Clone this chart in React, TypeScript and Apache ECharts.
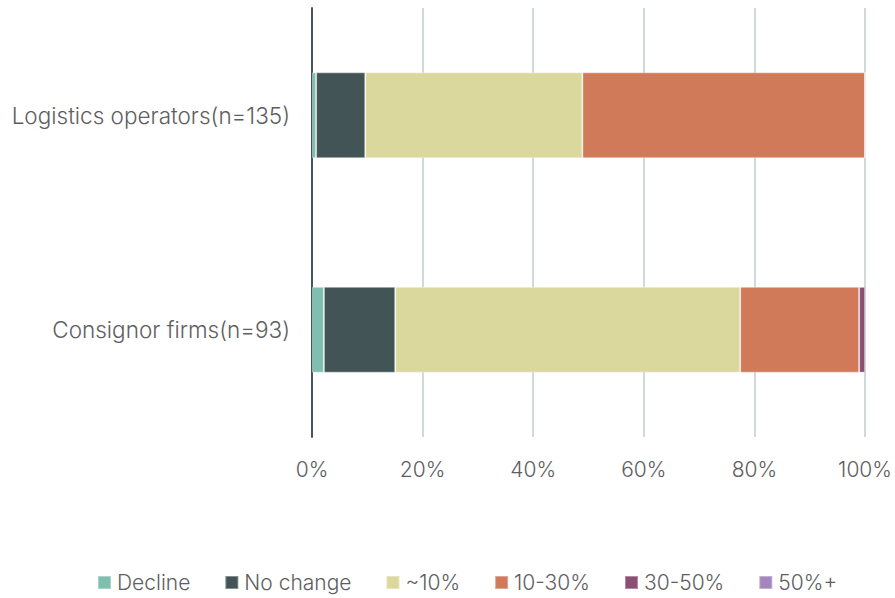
import React, { useEffect, useRef } from "react";
import * as echarts from "echarts";

// Respondent groups (top to bottom)
const categories = ["Logistics operators(n=135)", "Consignor firms(n=93)"];

// Share of respondents per expected change band, in percent
const seriesNames = ["Decline", "No change", "~10%", "10-30%", "30-50%", "50%+"];
const decline = [0.74, 2.15];
const noChange = [8.89, 12.9];
const upTo10 = [39.26, 62.37];
const from10to30 = [51.11, 21.51];
const from30to50 = [0, 1.08];
const over50 = [0, 0];

const xTicks = [0, 20, 40, 60, 80, 100];

const colors = ["#7fbfb0", "#435457", "#dad89c", "#d17a5a", "#8b4f74", "#a585bd"];

export default function App() {
  const ref = useRef<HTMLDivElement>(null);

  useEffect(() => {
    if (!ref.current) return;
    const chart = echarts.init(ref.current, null, { renderer: "svg" });
    const values = [decline, noChange, upTo10, from10to30, from30to50, over50];
    const font = "Inter, sans-serif";
    const text = { color: "#5e5e5e", fontFamily: font, fontWeight: 300 };

    chart.setOption({
      animation: false,
      color: colors,
      textStyle: { fontFamily: font },
      grid: { left: 312, right: 29, top: 8, bottom: 161, containLabel: false },
      legend: {
        bottom: 0,
        left: 92,
        itemWidth: 13,
        itemHeight: 13,
        itemGap: 34,
        icon: "rect",
        textStyle: { ...text, fontSize: 21, padding: [0, 0, 0, 1] },
        data: seriesNames,
      },
      xAxis: {
        type: "value",
        min: xTicks[0],
        max: xTicks[xTicks.length - 1],
        interval: 20,
        axisLine: { show: false },
        axisTick: { show: false },
        splitLine: { show: true, lineStyle: { color: "#d3d8da", width: 2 } },
        axisLabel: {
          ...text,
          formatter: (v: number) => `${v}%`,
          fontSize: 21,
          margin: 22,
        },
      },
      yAxis: {
        type: "category",
        data: categories,
        inverse: true,
        axisLine: { show: true, lineStyle: { color: "#4a5558", width: 2 } },
        axisTick: { show: false },
        axisLabel: { ...text, fontSize: 22.5, margin: 22 },
      },
      series: seriesNames.map((name, i) => ({
        name,
        type: "bar",
        stack: "total",
        barCategoryGap: "60%",
        data: values[i],
        itemStyle: { borderColor: "rgba(255,255,255,0.35)", borderWidth: 1 },
        emphasis: { disabled: true },
      })),
    });

    return () => chart.dispose();
  }, []);

  return <div ref={ref} style={{ width: 895, height: 598, position: "absolute", left: 0, top: 0 }} />;
}
